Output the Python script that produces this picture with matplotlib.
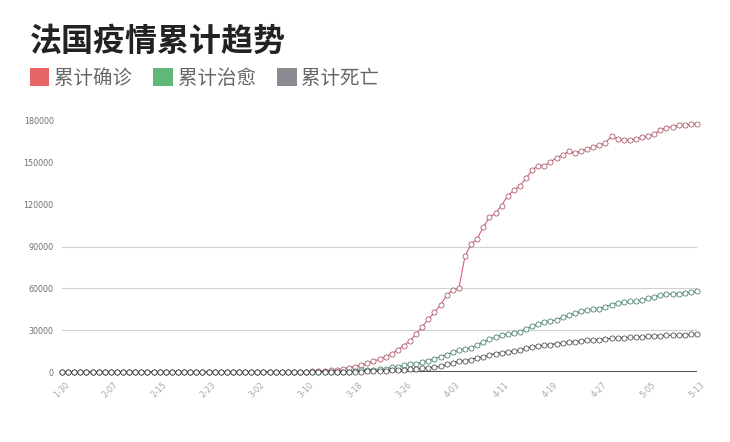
import matplotlib
matplotlib.use("Agg")
import matplotlib.pyplot as plt
from matplotlib.patches import Patch
from matplotlib.transforms import ScaledTranslation
import pandas as pd

plt.rcParams['font.family'] = ['Noto Sans CJK SC', 'DejaVu Sans']

# Daily categories: 2020-01-30 .. 2020-05-13
dates = [d.strftime('%-m-%d') for d in pd.date_range('2020-01-30', '2020-05-13')]
tick_labels = ['1-30', '2-07', '2-15', '2-23', '3-02', '3-10', '3-18',
               '3-26', '4-03', '4-11', '4-19', '4-27', '5-05', '5-13']

series_names = ['累计确诊', '累计治愈', '累计死亡']

confirmed = (
    [6] * 9 + [11] * 4 + [12] * 14 + [14, 18, 38, 57]
    + [100, 100, 130, 178, 191, 212, 240, 285, 290]
    + [300, 450, 650, 950, 1200, 1700, 2300, 3000, 3900, 4900,
       6200, 7600, 9300, 11000, 13000, 16000, 19000, 22500, 27000, 32500,
       37900, 42800, 48200, 55000, 58900, 60000, 83000, 91800, 95500, 104000,
       110800, 113900, 119400, 126500, 130200, 133600, 139000, 144800, 148000, 147900,
       150600, 153700, 155700, 158200, 156900, 158500, 159900, 161500, 162500, 164500,
       169000, 167000, 166200, 166500, 167100, 168300, 169300, 170500, 173800, 175000,
       176000, 176800, 177200, 177500, 178000]
)

recovered = (
    [0] * 15 + [2] * 8 + [12] * 25
    + [602, 1587, 1587, 1587, 2200, 2200, 3281, 3900, 4948, 5700,
       5700, 7202, 7964, 9513, 11053, 12548, 14135, 15572, 16349, 17428,
       19337, 21452, 23413, 24932, 26391, 27186, 27718, 28805, 30955, 32812,
       34420, 35983, 36587, 37409, 39181, 40657, 42088, 43493, 44594, 44903,
       45513, 46886, 48228, 49476, 49943, 50562, 50784, 51371, 52736, 53972,
       54903, 55782, 56038, 56217, 56724, 57200, 57785]
)

deaths = (
    [0] * 16 + [1] * 11 + [2] * 5
    + [3, 4, 4, 6, 9, 11, 19, 19, 33, 48,
       48, 79, 91, 91, 148, 148, 148, 243, 450, 562,
       674, 860, 1100, 1331, 1696, 1995, 2314, 2606, 3024, 3523,
       4043, 5398, 6520, 7574, 8093, 8926, 10343, 10887, 12228, 13215,
       13851, 14412, 14986, 15712, 17167, 17920, 18681, 19323, 19718, 20265,
       20796, 21340, 21856, 22245, 22614, 22856, 23293, 23660, 24087, 24376,
       24594, 24760, 24895, 25201, 25531, 25809, 25987, 26230, 26310, 26380,
       26643, 26991, 27074]
)

y_ticks = [0, 30000, 60000, 90000, 120000, 150000, 180000]
grid_levels = [30000, 60000, 90000]

legend_colors = ['#e86567', '#5fb878', '#8b8a90']
line_colors = ['#d8607a', '#44a37c', '#4a4a4a']
edge_colors = ['#9c3f50', '#2c6a4e', '#333333']

fig = plt.figure(figsize=(7.30, 4.42), dpi=100)
ax = fig.add_axes([62 / 730, 70 / 442, 635 / 730, 251 / 442])

x = list(range(len(dates)))
for vals, lc, ec, z in zip([confirmed, recovered, deaths], line_colors, edge_colors, [3, 4, 5]):
    ax.plot(x, vals, color=lc, lw=0.8, marker='o', markersize=3.7,
            markerfacecolor='white', markeredgecolor=ec, markeredgewidth=0.5,
            clip_on=False, zorder=z)

ax.set_xlim(0, len(dates) - 1)
ax.set_ylim(0, 180000)

for g in grid_levels:
    ax.axhline(g, color='#cfcfcf', lw=0.8, zorder=1)
ax.axhline(0, color='#333333', lw=1.2, zorder=2)

for s in ax.spines.values():
    s.set_visible(False)

ax.set_yticks(y_ticks)
ax.set_yticklabels([str(v) for v in y_ticks], fontsize=5.8, color='#707070',
                   family='DejaVu Sans')
tick_pos = [dates.index(t) for t in tick_labels]
ax.set_xticks(tick_pos)
ax.set_xticklabels(tick_labels, fontsize=5.8, color='#a8a8a8', family='DejaVu Sans',
                   rotation=45, ha='right', va='center', rotation_mode='anchor')
ax.tick_params(axis='both', length=0)
ax.tick_params(axis='y', pad=6)
ax.tick_params(axis='x', pad=8)
shift = ScaledTranslation(6 / 100, 0, fig.dpi_scale_trans)
for lbl in ax.get_xticklabels():
    lbl.set_transform(lbl.get_transform() + shift)

fig.text(30 / 730, 1 - 42 / 442, '法国疫情累计趋势', fontsize=23, fontweight='bold',
         color='#222222', va='center', ha='left')

handles = [Patch(facecolor=c, edgecolor='none') for c in legend_colors]
fig.legend(handles, series_names, loc='center left', bbox_to_anchor=(22 / 730, 1 - 78 / 442),
           ncol=3, frameon=False, fontsize=14, handlelength=1.0, handleheight=1.0,
           handletextpad=0.25, columnspacing=1.1, labelcolor='#666666', borderaxespad=0)

fig.savefig('out.png', dpi=100, facecolor='white')
